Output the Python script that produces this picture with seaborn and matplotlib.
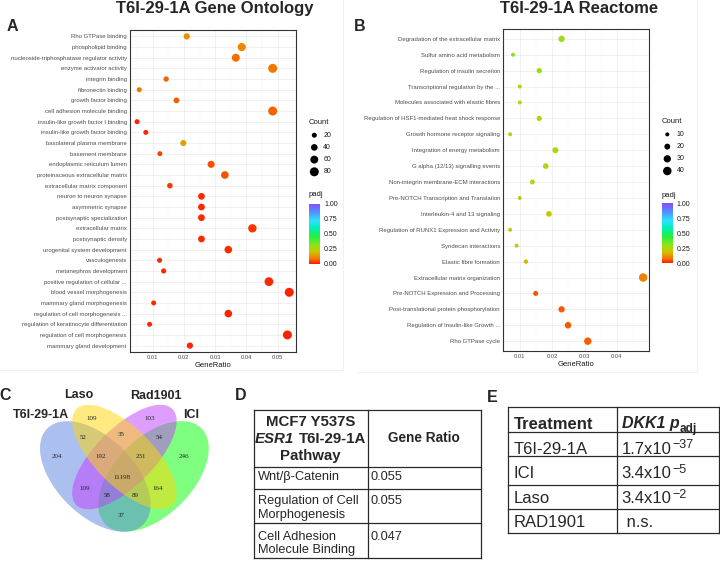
import matplotlib
matplotlib.use("Agg")
import matplotlib as mpl
import matplotlib.pyplot as plt
from matplotlib.colors import LinearSegmentedColormap, Normalize
from matplotlib.patches import Ellipse
import numpy as np
import pandas as pd
import seaborn as sns

# ---------------- data ----------------
go_title = "T6I-29-1A Gene Ontology"
go_terms = [
    "Rho GTPase binding", "phospholipid binding",
    "nucleoside-triphosphatase regulator activity", "enzyme activator activity",
    "integrin binding", "fibronectin binding", "growth factor binding",
    "cell adhesion molecule binding", "insulin-like growth factor I binding",
    "insulin-like growth factor binding", "basolateral plasma membrane",
    "basement membrane", "endoplasmic reticulum lumen",
    "proteinaceous extracellular matrix", "extracellular matrix component",
    "neuron to neuron synapse", "asymmetric synapse", "postsynaptic specialization",
    "extracellular matrix", "postsynaptic density", "urogenital system development",
    "vasculogenesis", "metanephros development", "positive regulation of cellular ...",
    "blood vessel morphogenesis", "mammary gland morphogenesis",
    "regulation of cell morphogenesis ...", "regulation of keratinocyte differentiation",
    "regulation of cell morphogenesis", "mammary gland development",
]
go_ratio = [0.0209, 0.0385, 0.0366, 0.0484, 0.0143, 0.0057, 0.0176, 0.0484, 0.0050,
            0.0078, 0.0198, 0.0123, 0.0287, 0.0331, 0.0155, 0.0256, 0.0256, 0.0256,
            0.0419, 0.0256, 0.0342, 0.0122, 0.0135, 0.0472, 0.0537, 0.0103, 0.0342,
            0.0090, 0.0531, 0.0219]
go_count = [35, 64, 61, 80, 24, 9, 29, 80, 8, 13, 33, 20, 47, 55, 26, 42, 42, 42,
            69, 42, 55, 20, 22, 76, 86, 17, 55, 15, 85, 35]
go_padj = [0.11, 0.10, 0.07, 0.08, 0.065, 0.08, 0.055, 0.06, 0.005, 0.01, 0.14,
           0.035, 0.045, 0.045, 0.02, 0.01, 0.01, 0.01, 0.02, 0.01, 0.015, 0.01,
           0.01, 0.01, 0.005, 0.01, 0.005, 0.01, 0.005, 0.01]
go_xticks = [0.01, 0.02, 0.03, 0.04, 0.05]
go_size_levels = [20, 40, 60, 80]

re_title = "T6I-29-1A Reactome"
re_terms = [
    "Degradation of the extracellular matrix", "Sulfur amino acid metabolism",
    "Regulation of insulin secretion", "Transcriptional regulation by the ...",
    "Molecules associated with elastic fibres",
    "Regulation of HSF1-mediated heat shock response",
    "Growth hormone receptor signaling", "Integration of energy metabolism",
    "G alpha (12/13) signalling events", "Non-integrin membrane-ECM interactions",
    "Pre-NOTCH Transcription and Translation", "Interleukin-4 and 13 signaling",
    "Regulation of RUNX1 Expression and Activity", "Syndecan interactions",
    "Elastic fibre formation", "Extracellular matrix organization",
    "Pre-NOTCH Expression and Processing", "Post-translational protein phosphorylation",
    "Regulation of Insulin-like Growth ...", "Rho GTPase cycle",
]
re_ratio = [0.0229, 0.0079, 0.0160, 0.0100, 0.0100, 0.0160, 0.0070, 0.0210, 0.0180,
            0.0139, 0.0100, 0.0190, 0.0070, 0.0090, 0.0119, 0.0481, 0.0149, 0.0229,
            0.0249, 0.0310]
re_count = [23, 8, 16, 10, 10, 16, 7, 21, 18, 14, 10, 19, 7, 9, 12, 48, 15, 23, 25, 31]
re_padj = [0.29, 0.31, 0.30, 0.26, 0.26, 0.27, 0.25, 0.27, 0.265, 0.27, 0.21, 0.205,
           0.20, 0.20, 0.18, 0.09, 0.05, 0.055, 0.055, 0.055]
re_xticks = [0.01, 0.02, 0.03, 0.04]
re_size_levels = [10, 20, 30, 40]

padj_ticks = [0.0, 0.25, 0.5, 0.75, 1.0]

venn_sets = ["T6I-29-1A", "Laso", "Rad1901", "ICI"]
venn_colors = ["#5A82E0", "gold", "#BF3EFF", "#00FF00"]
venn_counts = [204, 109, 103, 246, 52, 35, 54, 192, 231, 11198, 109, 164, 58, 89, 37]

d_head_left = ["MCF7 Y537S", "ESR1 T6I-29-1A", "Pathway"]
d_head_italic = "ESR1"
d_head_right = "Gene Ratio"
d_pathways = ["Wnt/\u03b2-Catenin", "Regulation of Cell\nMorphogenesis",
              "Cell Adhesion\nMolecule Binding"]
d_ratios = [0.055, 0.055, 0.047]

e_head_left = "Treatment"
e_head_gene = "DKK1 p"
e_head_sub = "adj"
e_treatments = ["T6I-29-1A", "ICI", "Laso", "RAD1901"]
e_mantissa = ["1.7x10", "3.4x10", "3.4x10", " n.s."]
e_exponent = ["\u221237", "\u22125", "\u22122", ""]

# ---------------- style ----------------
sns.set_style("white")
plt.rcParams['font.family'] = ['Liberation Sans', 'DejaVu Sans']

padj_cmap = LinearSegmentedColormap.from_list("padj", [
    (0.00, '#FF1E00'), (0.08, '#F27A00'), (0.15, '#E0A800'), (0.20, '#C8C800'),
    (0.28, '#A0DC10'), (0.33, '#78E820'), (0.45, '#20F040'), (0.60, '#00F0C0'),
    (0.72, '#30E0FF'), (0.86, '#5090FF'), (1.00, '#8A4CFF')])

W, H = 720, 561
PX = 100 / 72.0
fig = plt.figure(figsize=(7.2, 5.61), dpi=100)
renderer = fig.canvas.get_renderer()


def px_axes(l, t, r, b):
    return fig.add_axes([l / W, 1 - b / H, (r - l) / W, (b - t) / H])


def dotplot(ax, terms, ratio, count, padj, xlim, xticks, size_norm, sizes):
    df = pd.DataFrame({"Description": terms, "GeneRatio": ratio,
                       "Count": count, "padj": padj})
    sns.scatterplot(data=df, x="GeneRatio", y="Description", hue="padj",
                    palette=padj_cmap, hue_norm=(0, 1), size="Count",
                    size_norm=size_norm, sizes=sizes, linewidth=0,
                    legend=False, ax=ax, zorder=3)
    n = len(terms)
    ax.set_ylim(n - 0.4, -0.6)
    ax.set_xlim(*xlim)
    ax.set_xticks(xticks)
    ax.set_xticklabels([f"{v:.2f}" for v in xticks])
    ax.set_xticks([v - 0.005 for v in xticks] + [xticks[-1] + 0.005], minor=True)
    ax.grid(which='major', color='#EBEBEB', lw=0.5)
    ax.grid(which='minor', axis='x', color='#F3F3F3', lw=0.3)
    ax.set_axisbelow(True)
    for s in ax.spines.values():
        s.set_visible(True)
        s.set_color('#333333')
        s.set_linewidth(0.8)
    ax.tick_params(axis='both', which='major', length=1.5, width=0.5,
                   color='#333333', labelcolor='#4D4D4D', pad=0.8)
    ax.tick_params(axis='y', labelsize=4.3)
    ax.tick_params(axis='x', labelsize=4.2)
    ax.tick_params(which='minor', length=0)
    ax.set_xlabel("GeneRatio", fontsize=5.5, labelpad=1.5, color='#1A1A1A')
    ax.set_ylabel("")


def legends(x0, count_y, dot_x, lab_x, levels, size_norm, sizes, pad_y, cb_box):
    ov.text(x0, count_y, "Count", fontsize=5.5, va='center', ha='left', color='#1A1A1A')
    lax = px_axes(dot_x - 12, count_y + 5, dot_x + 25, count_y + 56)
    ys = [count_y + 12.7 + 12.2 * i for i in range(len(levels))]
    sns.scatterplot(x=[dot_x] * len(levels), y=ys, size=levels, size_norm=size_norm,
                    sizes=sizes, color='black', linewidth=0, legend=False, ax=lax)
    lax.set_xlim(dot_x - 12, dot_x + 25)
    lax.set_ylim(count_y + 56, count_y + 5)
    lax.axis('off')
    for y, v in zip(ys, levels):
        lax.text(lab_x, y, str(v), fontsize=5, va='center', ha='left', color='#1A1A1A')
    ov.text(x0, pad_y, "padj", fontsize=5.5, va='center', ha='left', color='#1A1A1A')
    cax = px_axes(*cb_box)
    cb = mpl.colorbar.ColorbarBase(cax, cmap=padj_cmap, norm=Normalize(0, 1),
                                   ticks=padj_ticks)
    cb.outline.set_visible(False)
    cax.set_yticklabels([f"{v:.2f}" for v in padj_ticks])
    cax.tick_params(labelsize=5, length=2, width=0.5, color='white',
                    direction='in', pad=3, labelcolor='#1A1A1A')


# overlay in pixel coordinates
ov = fig.add_axes([0, 0, 1, 1])
ov.set_xlim(0, W)
ov.set_ylim(H, 0)
ov.axis('off')

# faint panel frames
for xs, ys_ in [([343, 343, -1], [-1, 370, 370]), ([697, 697, 357], [-1, 372, 372])]:
    ov.plot(xs, ys_, color='#EFEFEF', lw=0.6)

# ---------------- panel A ----------------
axA = px_axes(130, 30, 296, 352)
dotplot(axA, go_terms, go_ratio, go_count, go_padj, (0.00274, 0.05586), go_xticks,
        (20, 80), (13, 42))
legends(308.5, 122.5, 314.3, 323.3, go_size_levels, (20, 80), (13, 42), 194.5,
        (308.5, 203.5, 320, 263.5))

# ---------------- panel B ----------------
axB = px_axes(503.3, 29.3, 649.3, 350.7)
dotplot(axB, re_terms, re_ratio, re_count, re_padj, (0.0049, 0.0500), re_xticks,
        (10, 40), (8.3, 37.4))
legends(661.7, 121.7, 667.3, 676.7, re_size_levels, (10, 40), (8.3, 37.4), 195.5,
        (661.7, 203.5, 672.7, 263.0))

fig.text(215 / W, 1 - 8.5 / H, go_title, fontsize=12, fontweight='bold',
         ha='center', va='center')
fig.text(579 / W, 1 - 8.5 / H, re_title, fontsize=12, fontweight='bold',
         ha='center', va='center')

for lab, x, y in [("A", 12, 26.5), ("B", 359.5, 26.5), ("C", 5.5, 395),
                  ("D", 241, 395), ("E", 492.5, 397)]:
    ov.text(x, y, lab, fontsize=11.5, fontweight='bold', ha='center', va='center')

# ---------------- panel C : Venn ----------------
vax = px_axes(27.4, 373.6, 221.4, 567.6)
vax.set_xlim(0, 1)
vax.set_ylim(0, 1)
vax.axis('off')
ell_geom = {0: ((0.35, 0.47), 0.70, 0.40, -45), 1: ((0.50, 0.57), 0.70, 0.30, -45),
            2: ((0.50, 0.57), 0.70, 0.30, 45), 3: ((0.65, 0.47), 0.70, 0.40, 45)}
for i in [3, 0, 2, 1]:
    c, w, h, ang = ell_geom[i]
    vax.add_patch(Ellipse(c, w, h, angle=ang, facecolor=venn_colors[i],
                          edgecolor='none', alpha=0.5))
region_pos = [(0.151, 0.572), (0.331, 0.770), (0.632, 0.770), (0.809, 0.572),
              (0.288, 0.670), (0.482, 0.684), (0.678, 0.670), (0.379, 0.572),
              (0.586, 0.572), (0.486, 0.465), (0.297, 0.409), (0.670, 0.409),
              (0.409, 0.371), (0.558, 0.371), (0.482, 0.268)]
for (x, y), v in zip(region_pos, venn_counts):
    vax.text(x, y, str(v), fontsize=5, family='Liberation Serif', ha='center',
             va='center', color='#222222')
set_pos = [(0.069, 0.787), (0.265, 0.892), (0.664, 0.887), (0.843, 0.787)]
for (x, y), s in zip(set_pos, venn_sets):
    vax.text(x, y, s, fontsize=9, fontweight='bold', ha='center', va='center')


# ---------------- tables ----------------
def btext(x, yc, s, fs, ha='left', **kw):
    return ov.text(x, yc + 0.358 * fs * PX, s, fontsize=fs, ha=ha, va='baseline', **kw)


def width(t):
    return t.get_window_extent(renderer=renderer).width


def hline(x1, x2, y, lw=0.9):
    ov.plot([x1, x2], [y, y], color='#2A2A2A', lw=lw, solid_capstyle='projecting')


def vline(x, y1, y2, lw=0.9):
    ov.plot([x, x], [y1, y2], color='#2A2A2A', lw=lw, solid_capstyle='projecting')


# Table D
dl, dm, dr = 253.5, 367.7, 481.0
d_rows = [410.0, 466.7, 489.3, 523.3, 558.0]
for y in d_rows:
    hline(dl, dr, y)
for x in (dl, dm, dr):
    vline(x, d_rows[0], d_rows[-1])
dcx = (dl + dm) / 2
for line, yc in zip(d_head_left, [421.0, 438.0, 455.0]):
    if line.startswith(d_head_italic):
        tmp = btext(0, 0, line, 10.8, fontweight='bold')
        wf = width(tmp)
        tmp.remove()
        xl = dcx - wf / 2
        btext(xl, yc, d_head_italic, 10.8, fontweight='bold', fontstyle='italic')
        btext(xl + wf, yc, line[len(d_head_italic):].strip(), 10.8, ha='right',
              fontweight='bold')
    else:
        btext(dcx, yc, line, 10.8, ha='center', fontweight='bold')
btext((dm + dr) / 2, 437.3, d_head_right, 9.8, ha='center', fontweight='bold')
d_line_y = [[475.3], [499.5, 513.0], [535.0, 548.5]]
for path, val, lys in zip(d_pathways, d_ratios, d_line_y):
    for s, yc in zip(path.split("\n"), lys):
        btext(258.3, yc, s, 9.2)
    btext(370.5, lys[0], f"{val:.3f}", 9.2)

# Table E
el, em, er = 508.3, 616.7, 719.0
e_rows = [407.3, 431.7, 455.7, 485.0, 509.3, 533.3]
for y in e_rows:
    hline(el, er, y)
for x in (el, em, er):
    vline(x, e_rows[0], e_rows[-1])
btext(514.0, 422.7, e_head_left, 12, fontweight='bold')
tg = btext(621.7, 422.7, e_head_gene, 11.5, fontweight='bold', fontstyle='italic')
base = 422.7 + 0.358 * 11.5 * PX
ov.text(621.7 + width(tg) + 0.8, base + 3.4, e_head_sub, fontsize=8.5,
        fontweight='bold', ha='left', va='baseline')
for tr, man, ex, yc in zip(e_treatments, e_mantissa, e_exponent,
                           [447.7, 472.5, 497.0, 521.5]):
    btext(513.5, yc, tr, 12)
    tm = btext(621.7, yc, man, 12)
    if ex:
        b = yc + 0.358 * 12 * PX
        ov.text(621.7 + width(tm) + 0.8, b - 5.2, ex, fontsize=9, ha='left',
                va='baseline')

fig.savefig("out.png", dpi=100)
